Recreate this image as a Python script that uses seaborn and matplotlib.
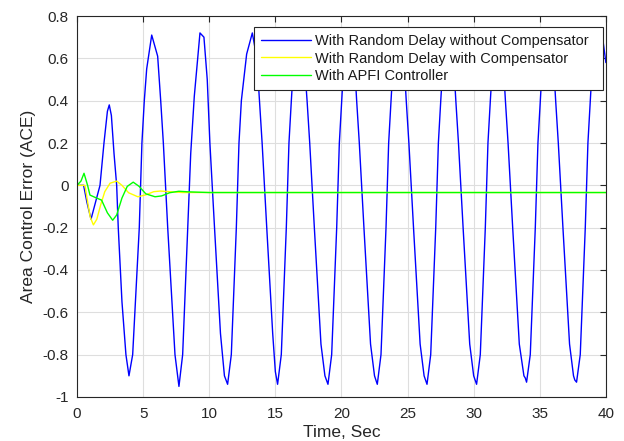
import numpy as np
import pandas as pd
import matplotlib
matplotlib.use("Agg")
import matplotlib.pyplot as plt
import seaborn as sns

# --- data (time in s, ACE) ---
t_blue = [0, 0.5, 0.75, 1.06, 1.4, 1.74, 2.04, 2.3, 2.44, 2.6, 2.8, 3.0, 3.12, 3.4, 3.7, 3.93,
          4.21, 4.71, 4.91, 5.09, 5.27, 5.65, 6.1, 6.33, 6.53, 6.86, 7.41, 7.71,
          7.99, 8.37, 8.6, 8.87, 9.3, 9.6, 9.85, 10.05, 10.4, 10.85, 11.15, 11.39,
          11.67, 12.05, 12.25, 12.43, 12.83, 13.26, 13.6, 13.8, 14.0, 14.35, 14.8, 15.0, 15.17,
          15.45, 15.83, 16.03, 16.21, 16.4, 16.8, 17.15, 17.4, 17.6, 17.95, 18.45, 18.75, 18.98,
          19.26, 19.64, 19.84, 20.02, 20.2, 20.6, 20.95, 21.15, 21.35, 21.7, 22.2, 22.5, 22.71,
          22.99, 23.37, 23.57, 23.75, 23.93, 24.33, 24.7, 24.9, 25.1, 25.45, 25.95, 26.25, 26.47,
          26.75, 27.13, 27.33, 27.51, 27.7, 28.1, 28.45, 28.65, 28.85, 29.2, 29.7, 30.0, 30.22,
          30.5, 30.88, 31.08, 31.26, 31.45, 31.85, 32.2, 32.4, 32.6, 32.95, 33.45, 33.8, 33.9, 34.0,
          34.28, 34.66, 34.86, 35.04, 35.22, 35.62, 36.0, 36.2, 36.4, 36.75, 37.25, 37.55, 37.65, 37.78,
          38.06, 38.44, 38.64, 38.82, 39.0, 39.3, 39.7, 40.0]
ace_blue = [0, 0, -0.08, -0.16, -0.08, 0.0, 0.2, 0.35, 0.38, 0.33, 0.15, 0.0, -0.2, -0.55, -0.8, -0.90,
            -0.8, -0.2, 0.2, 0.4, 0.55, 0.71, 0.61, 0.4, 0.2, -0.2, -0.8, -0.95,
            -0.8, -0.2, 0.15, 0.42, 0.72, 0.70, 0.5, 0.2, -0.2, -0.7, -0.9, -0.94,
            -0.8, -0.2, 0.2, 0.4, 0.62, 0.72, 0.6, 0.4, 0.2, -0.2, -0.7, -0.88, -0.94,
            -0.8, -0.2, 0.2, 0.4, 0.6, 0.72, 0.62, 0.4, 0.2, -0.2, -0.75, -0.9, -0.94,
            -0.8, -0.2, 0.2, 0.4, 0.6, 0.72, 0.62, 0.4, 0.2, -0.2, -0.75, -0.9, -0.94,
            -0.8, -0.2, 0.2, 0.4, 0.6, 0.72, 0.62, 0.4, 0.2, -0.2, -0.75, -0.9, -0.94,
            -0.8, -0.2, 0.2, 0.4, 0.6, 0.72, 0.62, 0.4, 0.2, -0.2, -0.75, -0.9, -0.94,
            -0.8, -0.2, 0.2, 0.4, 0.6, 0.72, 0.62, 0.4, 0.2, -0.2, -0.75, -0.9, -0.91, -0.93,
            -0.8, -0.2, 0.2, 0.4, 0.6, 0.72, 0.62, 0.4, 0.2, -0.2, -0.75, -0.9, -0.92, -0.93,
            -0.8, -0.2, 0.2, 0.4, 0.6, 0.69, 0.72, 0.58]

t_yellow = [0, 0.6, 0.86, 1.0, 1.24, 1.5, 1.8, 2.1, 2.5, 3.0, 3.4, 3.9, 4.6, 5.2, 5.8, 6.3, 7.0, 8.0, 10.0, 40.0]
ace_yellow = [0, 0, -0.1, -0.15, -0.187, -0.16, -0.09, -0.03, 0.01, 0.02, 0.0, -0.035, -0.054, -0.045,
              -0.03, -0.027, -0.03, -0.034, -0.034, -0.034]

t_green = [0, 0.3, 0.53, 0.8, 0.98, 1.48, 1.86, 2.3, 2.7, 3.0, 3.4, 3.8, 4.25, 4.7, 5.2, 5.9, 6.4, 7.0,
           7.7, 8.5, 10.0, 40.0]
ace_green = [0, 0.02, 0.057, 0.0, -0.046, -0.06, -0.07, -0.13, -0.165, -0.14, -0.06, -0.005, 0.015,
             -0.005, -0.04, -0.054, -0.05, -0.035, -0.028, -0.031, -0.034, -0.034]

labels = ["With Random Delay without Compensator",
          "With Random Delay with Compensator",
          "With APFI Controller"]
line_colors = ["#0000ff", "#ffff00", "#00ff00"]

x_ticks = [0, 5, 10, 15, 20, 25, 30, 35, 40]
y_ticks = [-1, -0.8, -0.6, -0.4, -0.2, 0, 0.2, 0.4, 0.6, 0.8]
y_tick_labels = ["-1", "-0.8", "-0.6", "-0.4", "-0.2", "0", "0.2", "0.4", "0.6", "0.8"]

sns.set_style("whitegrid", {"grid.color": "#dedede", "axes.edgecolor": "#262626"})
plt.rcParams["font.family"] = ["Liberation Sans", "DejaVu Sans"]

fig = plt.figure(figsize=(6.24, 4.41), dpi=100)
ax = fig.add_axes([0.1234, 0.0998, 0.8476, 0.8639])

series = [(t_blue, ace_blue), (t_yellow, ace_yellow), (t_green, ace_green)]
for (tt, yy), lab, col in zip(series, labels, line_colors):
    df = pd.DataFrame({"t": tt, "ace": yy})
    sns.lineplot(data=df, x="t", y="ace", ax=ax, color=col, linewidth=1.0,
                 label=lab, sort=False, estimator=None)

ax.set_xlim(0, 40)
ax.set_ylim(-1, 0.8)
ax.set_xticks(x_ticks)
ax.set_yticks(y_ticks)
ax.set_yticklabels(y_tick_labels)
ax.tick_params(direction="in", length=4, width=0.8, top=True, right=True,
               labelsize=11, colors="#262626")
ax.tick_params(axis="x", pad=7)
ax.tick_params(axis="y", pad=6)
for s in ax.spines.values():
    s.set_linewidth(0.8)
    s.set_color("#262626")
ax.grid(True, color="#dedede", linewidth=0.8)

ax.set_xlabel("Time, Sec", fontsize=12.5, color="#262626", labelpad=3)
ax.set_ylabel("Area Control Error (ACE)", fontsize=12.5, color="#262626", labelpad=5)

# legend box spans the same region as in the reference, text left-aligned
leg = ax.legend(loc="upper left", bbox_to_anchor=(0.3346, 0.8136, 0.6597, 0.1575),
                mode="expand", borderaxespad=0,
                fontsize=10.5, handlelength=3.4, handletextpad=0.3, labelspacing=0.22,
                borderpad=0.5, fancybox=False, framealpha=1, edgecolor="#262626")
leg.get_frame().set_linewidth(0.8)
for txt in leg.get_texts():
    txt.set_color("#1a1a1a")

fig.savefig("out.png", dpi=100)
